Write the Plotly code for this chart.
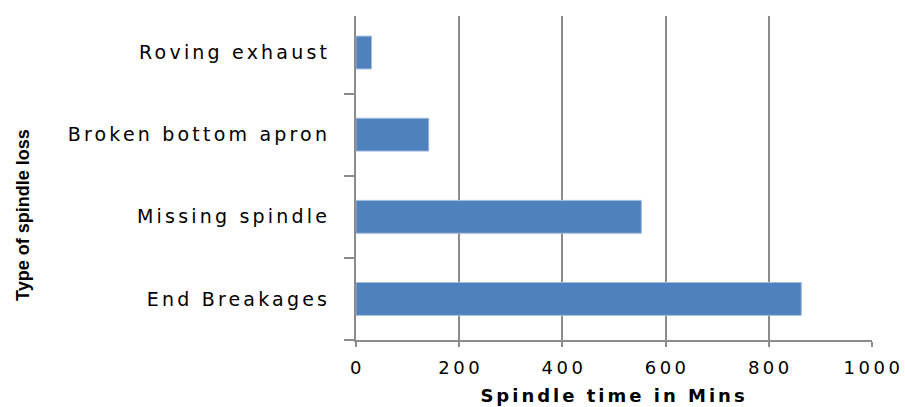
import plotly.graph_objects as go

# Spindle time lost per type of spindle loss (minutes)
loss_types = ["End Breakages", "Missing spindle", "Broken bottom apron", "Roving exhaust"]
spindle_minutes = [863, 553, 141, 30]
x_ticks = [0, 200, 400, 600, 800, 1000]

grid_color = "#8c8c8c"
label_font = dict(family="DejaVu Sans", size=19, color="#000000")

fig = go.Figure(
    go.Bar(
        x=spindle_minutes,
        y=loss_types,
        orientation="h",
        width=0.4,
        marker=dict(color="#4f81bd", line=dict(color="#a3bcdd", width=1)),
        hoverinfo="x+y",
    )
)

fig.update_layout(
    width=905,
    height=407,
    margin=dict(l=356, r=33, t=16, b=67),
    paper_bgcolor="white",
    plot_bgcolor="white",
    showlegend=False,
)

fig.update_xaxes(
    range=[0, 1000],
    tickvals=x_ticks,
    ticktext=[str(v) for v in x_ticks],
    showgrid=True,
    gridcolor=grid_color,
    gridwidth=2,
    showline=True,
    linecolor=grid_color,
    linewidth=2,
    ticks="outside",
    ticklen=5,
    tickwidth=2,
    tickcolor=grid_color,
    tickfont=dict(family="DejaVu Sans", size=18, color="#000000"),
    ticklabelstandoff=5,
    zeroline=False,
    automargin=False,
    title=dict(
        text="Spindle time in Mins",
        font=dict(family="DejaVu Sans", size=18, color="#000000", weight="bold"),
        standoff=13,
    ),
)

fig.update_yaxes(
    type="category",
    categoryorder="array",
    categoryarray=loss_types,
    range=[-0.5, 3.445],
    showgrid=False,
    showline=True,
    linecolor=grid_color,
    linewidth=2,
    ticks="outside",
    tickson="boundaries",
    ticklen=10,
    tickwidth=1.5,
    tickcolor=grid_color,
    tickfont=label_font,
    ticklabelstandoff=20,
    zeroline=False,
    automargin=False,
)

fig.add_annotation(
    text="Type of spindle loss",
    textangle=-90,
    xref="paper",
    yref="paper",
    x=-356 / 516 + 23 / 516,
    y=(340 - 215) / 324,
    xanchor="center",
    yanchor="middle",
    showarrow=False,
    font=dict(family="Liberation Sans Narrow, Liberation Sans", size=18, color="#000000", weight="bold"),
)

# Wider letter spacing for the axis labels
spacing_js = """
var gd = document.getElementById('{plot_id}');
function widen() {
  gd.querySelectorAll('.ytick text').forEach(function (t) { t.style.letterSpacing = '3.2px'; });
  gd.querySelectorAll('.xtick text').forEach(function (t) {
    t.style.letterSpacing = '3.5px';
    t.setAttribute('dx', '1.5');
  });
  gd.querySelectorAll('.xtitle').forEach(function (t) { t.style.letterSpacing = '3px'; });
}
widen();
gd.on('plotly_afterplot', widen);
"""

fig.write_html("out.html", post_script=spacing_js)
